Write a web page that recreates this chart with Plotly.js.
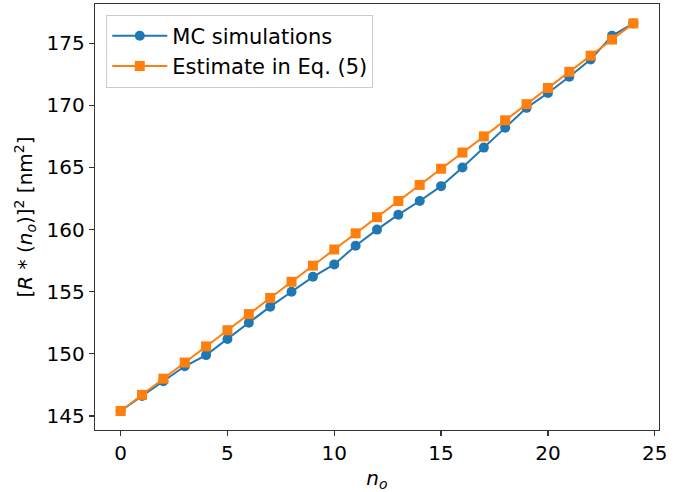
<!DOCTYPE html>
<html>
<head>
<meta charset="utf-8">
<script src="https://cdn.plot.ly/plotly-3.0.1.min.js"></script>
<style>html,body{margin:0;padding:0;background:#fff}#chart{width:690px;height:492px}</style>
</head>
<body>
<div id="chart"></div>
<script>
const nO = [0,1,2,3,4,5,6,7,8,9,10,11,12,13,14,15,16,17,18,19,20,21,22,23,24];
const mcSimulations = [145.4,146.6,147.8,149.0,149.9,151.2,152.5,153.8,155.0,156.2,157.2,158.7,160.0,161.2,162.3,163.5,165.0,166.6,168.2,169.8,171.0,172.3,173.7,175.6,176.6];
const estimateEq5 = [145.4,146.7,148.0,149.3,150.6,151.9,153.2,154.5,155.8,157.1,158.4,159.7,161.0,162.3,163.6,164.9,166.2,167.5,168.8,170.1,171.4,172.7,174.0,175.3,176.6];
const seriesNames = ['MC simulations', 'Estimate in Eq. (5)'];
const xTicks = [0,5,10,15,20,25];
const yTicks = [145,150,155,160,165,170,175];

const font = {family: 'DejaVu Sans, sans-serif', size: 20, color: '#000'};
const legendFont = {family: 'DejaVu Sans, sans-serif', size: 21, color: '#000'};
const traces = [
  {x: nO, y: mcSimulations, name: seriesNames[0], type: 'scatter', mode: 'lines+markers',
   line: {color: '#1f77b4', width: 2}, marker: {symbol: 'circle', size: 10, color: '#1f77b4'}},
  {x: nO, y: estimateEq5, name: seriesNames[1], type: 'scatter', mode: 'lines+markers',
   line: {color: '#ff7f0e', width: 2}, marker: {symbol: 'square', size: 10, color: '#ff7f0e'}}
];
const axisCommon = {showgrid: false, zeroline: false, showline: true, mirror: true,
  linecolor: '#333', linewidth: 1.2, ticks: 'outside', ticklen: 5, tickwidth: 1.2, tickcolor: '#333',
  tickfont: font};
const layout = {
  width: 690, height: 492,
  margin: {l: 95, r: 31, t: 4, b: 62},
  paper_bgcolor: '#fff', plot_bgcolor: '#fff',
  font: font,
  showlegend: true,
  legend: {x: 0.02, y: 0.975, xanchor: 'left', yanchor: 'top', bgcolor: 'rgba(255,255,255,0.8)',
    bordercolor: '#ccc', borderwidth: 1, font: legendFont, itemwidth: 55},
  xaxis: Object.assign({}, axisCommon, {range: [-1.2, 25.2], tickvals: xTicks,
    title: {text: '<i>n<sub>o</sub></i>', font: font, standoff: 6}}),
  yaxis: Object.assign({}, axisCommon, {range: [143.87, 178.16], tickvals: yTicks,
    title: {text: '[<i>R</i> * (<i>n<sub>o</sub></i>)]<sup>2</sup> [nm<sup>2</sup>]', font: font, standoff: 8}})
};
Plotly.newPlot('chart', traces, layout, {displayModeBar: false, staticPlot: true});
</script>
</body>
</html>
